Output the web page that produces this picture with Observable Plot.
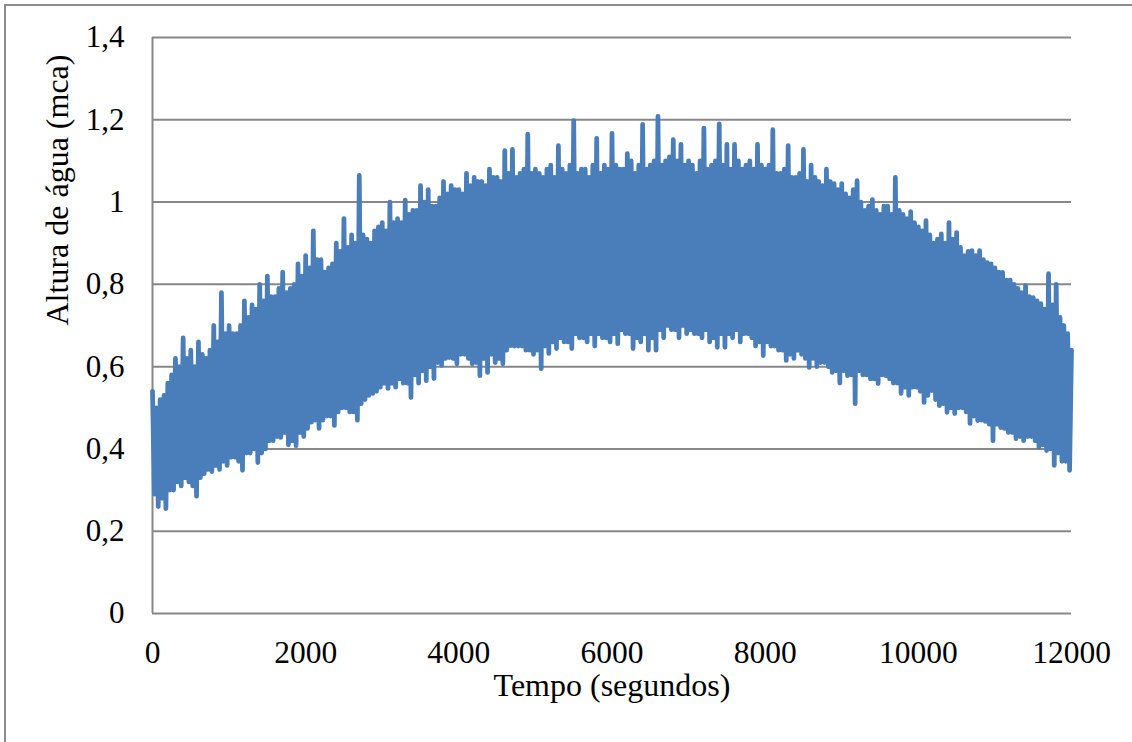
<!DOCTYPE html>
<html><head><meta charset="utf-8">
<script src="https://cdn.jsdelivr.net/npm/d3@7"></script>
<script src="https://cdn.jsdelivr.net/npm/@observablehq/plot@0.6"></script>
<style>
html,body{margin:0;padding:0;background:#fff;}
#wrap{position:relative;width:1132px;height:742px;overflow:hidden;}
#wrap svg{display:block;}
#border{position:absolute;left:4px;top:4px;width:1150px;height:760px;border:2px solid #8c8c8c;pointer-events:none;}
</style></head>
<body><div id="wrap"><div id="border"></div></div>
<script>
// Altura de água (mca): picos em t = 0, 50, ..., 12000 s; vales em t = 25, 75, ..., 11975 s
const picos = [
  0.54, 0.50, 0.52, 0.53, 0.56, 0.58, 0.62, 0.60, 0.67, 0.62, 0.64, 0.60, 0.66, 0.63, 0.62, 0.64, 0.70, 0.66, 0.78, 0.68,
  0.70, 0.68, 0.68, 0.70, 0.76, 0.72, 0.75, 0.74, 0.80, 0.76, 0.82, 0.77, 0.77, 0.79, 0.83, 0.78, 0.79, 0.80, 0.85, 0.82,
  0.87, 0.84, 0.93, 0.86, 0.86, 0.83, 0.84, 0.85, 0.90, 0.88, 0.96, 0.89, 0.92, 0.90, 1.065, 0.92, 0.91, 0.90, 0.93, 0.94,
  0.95, 0.93, 1.00, 0.95, 0.96, 0.95, 1.005, 0.97, 0.98, 0.98, 1.04, 1.00, 1.03, 0.99, 0.99, 1.01, 1.05, 1.02, 1.04, 1.03,
  1.03, 1.02, 1.07, 1.04, 1.06, 1.05, 1.05, 1.04, 1.08, 1.06, 1.06, 1.05, 1.125, 1.07, 1.128, 1.06, 1.07, 1.08, 1.165, 1.07,
  1.08, 1.07, 1.06, 1.08, 1.09, 1.06, 1.137, 1.08, 1.07, 1.09, 1.198, 1.07, 1.08, 1.08, 1.06, 1.09, 1.155, 1.07, 1.09, 1.08,
  1.167, 1.09, 1.08, 1.08, 1.118, 1.10, 1.07, 1.09, 1.189, 1.08, 1.09, 1.10, 1.208, 1.09, 1.10, 1.11, 1.152, 1.10, 1.14, 1.09,
  1.10, 1.09, 1.07, 1.10, 1.18, 1.08, 1.09, 1.10, 1.19, 1.09, 1.14, 1.08, 1.14, 1.10, 1.08, 1.09, 1.10, 1.08, 1.14, 1.09,
  1.08, 1.09, 1.176, 1.07, 1.07, 1.08, 1.137, 1.06, 1.06, 1.07, 1.128, 1.05, 1.09, 1.06, 1.05, 1.04, 1.08, 1.05, 1.045, 1.03,
  1.045, 1.02, 1.01, 1.03, 1.052, 1.00, 0.98, 0.99, 1.006, 0.98, 0.97, 0.99, 0.99, 0.97, 1.06, 0.98, 0.97, 0.96, 0.977, 0.95,
  0.94, 0.93, 0.955, 0.92, 0.90, 0.91, 0.923, 0.90, 0.95, 0.91, 0.926, 0.89, 0.87, 0.88, 0.882, 0.87, 0.882, 0.86, 0.853, 0.85,
  0.84, 0.83, 0.829, 0.81, 0.81, 0.80, 0.79, 0.78, 0.797, 0.77, 0.768, 0.76, 0.753, 0.74, 0.826, 0.75, 0.80, 0.72, 0.70, 0.68,
  0.64
];
const vales = [
  0.29, 0.26, 0.28, 0.255, 0.30, 0.30, 0.32, 0.31, 0.33, 0.32, 0.31, 0.285, 0.33, 0.34, 0.35, 0.345, 0.36, 0.35, 0.37, 0.36,
  0.38, 0.38, 0.37, 0.348, 0.39, 0.39, 0.40, 0.367, 0.39, 0.40, 0.42, 0.42, 0.43, 0.428, 0.44, 0.41, 0.42, 0.408, 0.44, 0.43,
  0.45, 0.465, 0.47, 0.45, 0.47, 0.48, 0.48, 0.457, 0.49, 0.50, 0.50, 0.49, 0.49, 0.47, 0.51, 0.52, 0.53, 0.535, 0.54, 0.55,
  0.56, 0.547, 0.56, 0.55, 0.57, 0.56, 0.56, 0.525, 0.58, 0.56, 0.59, 0.566, 0.60, 0.571, 0.61, 0.603, 0.62, 0.622, 0.62, 0.607,
  0.63, 0.63, 0.62, 0.607, 0.61, 0.578, 0.62, 0.586, 0.63, 0.61, 0.62, 0.607, 0.64, 0.651, 0.65, 0.65, 0.65, 0.64, 0.64, 0.63,
  0.64, 0.595, 0.65, 0.632, 0.66, 0.644, 0.67, 0.66, 0.66, 0.644, 0.68, 0.67, 0.67, 0.66, 0.68, 0.65, 0.68, 0.67, 0.67, 0.66,
  0.68, 0.656, 0.69, 0.68, 0.68, 0.644, 0.67, 0.66, 0.68, 0.64, 0.67, 0.64, 0.69, 0.67, 0.70, 0.69, 0.69, 0.67, 0.70, 0.68,
  0.69, 0.68, 0.68, 0.67, 0.69, 0.66, 0.67, 0.647, 0.68, 0.647, 0.68, 0.67, 0.69, 0.66, 0.68, 0.68, 0.67, 0.65, 0.66, 0.627,
  0.66, 0.65, 0.65, 0.64, 0.64, 0.615, 0.63, 0.62, 0.64, 0.63, 0.62, 0.598, 0.62, 0.60, 0.61, 0.61, 0.60, 0.586, 0.59, 0.56,
  0.59, 0.578, 0.58, 0.51, 0.59, 0.58, 0.58, 0.57, 0.57, 0.559, 0.58, 0.578, 0.57, 0.56, 0.56, 0.535, 0.55, 0.53, 0.55, 0.55,
  0.54, 0.513, 0.53, 0.542, 0.52, 0.505, 0.51, 0.489, 0.50, 0.486, 0.50, 0.50, 0.49, 0.462, 0.48, 0.469, 0.47, 0.467, 0.46, 0.42,
  0.46, 0.452, 0.45, 0.44, 0.44, 0.425, 0.43, 0.42, 0.43, 0.43, 0.42, 0.404, 0.41, 0.396, 0.40, 0.36, 0.39, 0.37, 0.37, 0.348
];
const xTicks = [0, 2000, 4000, 6000, 8000, 10000, 12000];
const yTicks = [0, 0.2, 0.4, 0.6, 0.8, 1.0, 1.2, 1.4];
const tituloX = "Tempo (segundos)";
const tituloY = "Altura de água (mca)";

const data = [];
for (let i = 0; i < picos.length; i++) {
  data.push({t: i * 50, h: picos[i]});
  if (i < vales.length) data.push({t: i * 50 + 25, h: vales[i]});
}
const fmtY = d => d3.format(".1~f")(d).replace(".", ",");
const font = "'Liberation Serif', 'Times New Roman', serif";

const chart = Plot.plot({
  width: 1132, height: 742,
  marginLeft: 152, marginRight: 61, marginTop: 37, marginBottom: 129,
  style: {fontFamily: font, fontSize: "31px", color: "#000", background: "transparent"},
  x: {domain: [0, 12000]},
  y: {domain: [0, 1.4]},
  marks: [
    Plot.ruleY(yTicks, {stroke: "#878787", strokeWidth: 2}),
    Plot.ruleX([0], {stroke: "#878787", strokeWidth: 2}),
    Plot.axisX({ticks: xTicks, tickSize: 0, tickPadding: 27, label: null, tickFormat: d => String(d), fontSize: 31.5, fill: "#000"}),
    Plot.axisY({ticks: yTicks, tickSize: 0, tickPadding: 28, label: null, tickFormat: fmtY, fontSize: 31, fill: "#000"}),
    Plot.line(data, {x: "t", y: "h", stroke: "#4a7ebb", strokeWidth: 4.75, strokeLinejoin: "round", strokeLinecap: "round"}),
    Plot.text([tituloX], {text: d => d, frameAnchor: "bottom", dy: 82, fontSize: 32, fill: "#000"}),
    Plot.text([tituloY], {text: d => d, frameAnchor: "left", rotate: -90, dx: -95, fontSize: 32, fill: "#000"})
  ]
});
document.getElementById("wrap").appendChild(chart);
</script>
</body></html>
